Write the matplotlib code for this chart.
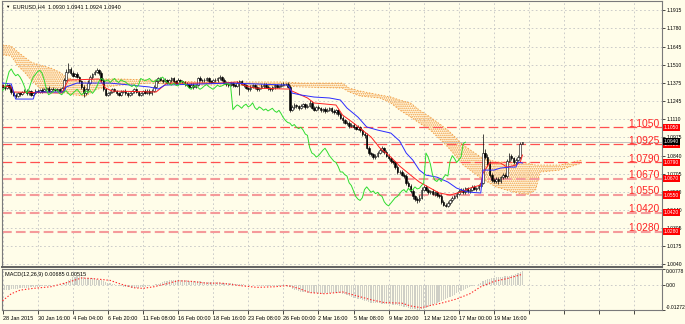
import matplotlib.pyplot as plt
from matplotlib.transforms import blended_transform_factory

plt.rcParams['font.family'] = ['Liberation Sans', 'DejaVu Sans']
plt.rcParams['lines.scale_dashes'] = False
plt.rcParams['hatch.linewidth'] = 0.8
plt.rcParams['hatch.color'] = '#f29a3c'

# EURUSD H4, prices in pips (1.1350 -> 11350)
first_open = 11360
closes = [
    11350, 11340, 11360, 11345, 11310, 11290, 11280, 11300, 11295, 11310,
    11320, 11300, 11315, 11290, 11305, 11320, 11310, 11325, 11315, 11330,
    11340, 11320, 11335, 11330, 11325, 11330, 11320, 11340, 11400, 11460,
    11480, 11450, 11430, 11440, 11420, 11390, 11350, 11300, 11330, 11380,
    11420, 11440, 11460, 11470, 11450, 11400, 11330, 11290, 11300, 11310,
    11330, 11320, 11300, 11290, 11310, 11320, 11300, 11285, 11300, 11315,
    11330, 11310, 11290, 11300, 11320, 11305, 11320, 11300, 11320, 11350,
    11390, 11410, 11400, 11390, 11400, 11380, 11395, 11410, 11390, 11380,
    11400, 11390, 11385, 11370, 11360, 11350, 11365, 11345, 11360, 11410,
    11400, 11395, 11400, 11410, 11390, 11385, 11400, 11395, 11410, 11420,
    11400, 11380, 11370, 11360, 11375, 11360, 11355, 11380, 11390, 11370,
    11360, 11340, 11330, 11350, 11360, 11345, 11330, 11340, 11355, 11365,
    11350, 11340, 11330, 11345, 11360, 11350, 11355, 11365, 11370, 11370,
    11350, 11180, 11200, 11215, 11205, 11190, 11210, 11220, 11200, 11210,
    11230, 11195, 11180, 11200, 11190, 11175, 11185, 11170, 11180, 11190,
    11170, 11160, 11175, 11150, 11120, 11100, 11085, 11080, 11060, 11070,
    11050, 11040, 11050, 11030, 11000, 10990, 10900, 10860, 10850, 10830,
    10840, 10860, 10880, 10895, 10870, 10840, 10820, 10800, 10790, 10760,
    10720, 10720, 10700, 10690, 10640, 10620, 10580, 10540, 10520, 10510,
    10530, 10590, 10610, 10590, 10570, 10580, 10560, 10570, 10550, 10540,
    10500, 10480, 10470, 10490, 10510, 10530, 10540, 10560, 10580, 10590,
    10570, 10600, 10580, 10590, 10610, 10595, 10600, 10620, 10640, 10860,
    10830, 10780, 10700, 10660, 10650, 10670, 10650, 10680, 10700, 10690,
    10800, 10840, 10820, 10790, 10810, 10830, 10930, 10940,
]
wick_up = [
    12, 8, 10, 6, 9, 7, 12, 10, 8, 11, 9, 14, 7, 10, 8, 12, 9, 6, 11, 8,
    10, 12, 7, 9, 11, 8, 10, 9, 15, 20, 44, 12, 18, 10, 14, 9, 12, 15, 8, 16,
    12, 10, 14, 17, 9, 15, 10, 12, 8, 11, 9, 13, 8, 10, 12, 7, 11, 9, 10, 8,
    12, 9, 10, 11, 8, 13, 9, 10, 12, 15, 18, 12, 10, 9, 14, 8, 11, 13, 9, 10,
    12, 8, 10, 9, 11, 7, 10, 12, 9, 14, 16, 9, 12, 10, 8, 11, 9, 13, 10, 12,
    9, 11, 8, 10, 12, 9, 10, 14, 12, 9, 10, 12, 8, 11, 9, 10, 13, 8, 11, 9,
    12, 10, 9, 11, 8, 12, 10, 9, 11, 10, 12, 10, 14, 12, 9, 11, 13, 10, 12, 15,
    18, 10, 12, 9, 11, 13, 10, 12, 9, 11, 10, 12, 9, 11, 14, 10, 12, 9, 13, 11,
    12, 10, 14, 11, 9, 15, 18, 12, 10, 13, 15, 12, 16, 20, 11, 12, 10, 14, 12, 11,
    13, 15, 12, 10, 14, 12, 11, 13, 10, 12, 18, 20, 15, 12, 14, 10, 13, 11, 12, 10,
    15, 12, 10, 14, 12, 11, 13, 15, 12, 10, 14, 12, 10, 13, 11, 12, 10, 14, 12, 140,
    30, 25, 18, 15, 12, 16, 14, 12, 15, 13, 16, 20, 15, 14, 12, 15, 11, 1,
]
wick_dn = [
    10, 12, 8, 11, 15, 10, 14, 9, 12, 8, 11, 9, 13, 10, 8, 12, 9, 11, 10, 7,
    12, 9, 10, 8, 11, 9, 12, 10, 8, 10, 12, 14, 10, 12, 9, 15, 18, 30, 12, 10,
    9, 11, 8, 10, 12, 14, 16, 12, 10, 9, 11, 8, 12, 10, 9, 11, 13, 10, 8, 12,
    9, 11, 10, 8, 12, 9, 11, 10, 9, 8, 10, 12, 9, 11, 8, 13, 9, 10, 12, 9,
    11, 10, 8, 12, 9, 14, 10, 11, 9, 8, 12, 10, 9, 11, 13, 8, 10, 9, 12, 10,
    11, 9, 12, 10, 8, 13, 10, 9, 90, 11, 12, 9, 10, 13, 8, 11, 12, 10, 9, 13,
    10, 12, 9, 11, 10, 8, 12, 10, 9, 11, 10, 15, 12, 14, 10, 12, 9, 11, 13, 10,
    12, 14, 11, 10, 13, 12, 10, 14, 11, 12, 13, 11, 10, 14, 12, 15, 11, 13, 12, 10,
    14, 12, 11, 15, 13, 16, 14, 18, 12, 15, 11, 13, 10, 12, 15, 11, 14, 12, 13, 16,
    12, 14, 11, 13, 15, 12, 14, 16, 13, 18, 12, 10, 14, 11, 13, 12, 10, 14, 12, 13,
    18, 14, 12, 10, 12, 11, 13, 10, 12, 11, 13, 10, 12, 14, 11, 10, 13, 12, 14, 10,
    15, 18, 20, 16, 14, 12, 15, 13, 11, 14, 12, 10, 14, 12, 11, 10, 12, 6,
]

# Ichimoku, bar index -> price in pips
tenkan_bar = [0, 4, 5, 27, 30, 44, 47, 50, 70, 75, 85, 100, 107, 111, 115, 129, 131, 132,
              139, 142, 152, 155, 160, 164, 168, 172, 177, 181, 186, 190, 195, 199, 204,
              209, 213, 218, 219, 222, 227, 230, 234, 236, 237]
tenkan_val = [11354, 11347, 11310, 11302, 11398, 11406, 11339, 11317, 11310, 11376, 11376,
              11376, 11384, 11354, 11339, 11332, 11332, 11317, 11266, 11229, 11214, 11140,
              11081, 11029, 10978, 10897, 10830, 10764, 10697, 10646, 10601, 10565, 10550,
              10572, 10601, 10624, 10712, 10786, 10786, 10756, 10771, 10793, 10845]
kijun_bar = [0, 4, 6, 14, 15, 28, 29, 34, 49, 67, 71, 74, 104, 130, 131, 132, 136, 142, 149,
             154, 157, 162, 166, 171, 177, 181, 184, 187, 190, 193, 198, 203, 207, 212, 218,
             219, 224, 227, 231, 234, 235, 237]
kijun_val = [11376, 11369, 11258, 11258, 11310, 11310, 11347, 11376, 11376, 11347, 11332,
             11361, 11376, 11361, 11339, 11302, 11288, 11273, 11266, 11251, 11192, 11125,
             11052, 11029, 11007, 10949, 10860, 10808, 10734, 10697, 10682, 10646, 10601,
             10572, 10565, 10734, 10734, 10749, 10756, 10756, 10793, 10786]
span_bar = [0, 4, 7, 10, 13, 17, 22, 26, 29, 33, 38, 42, 47, 54, 67, 76, 90, 104, 117, 129,
            136, 155, 158, 163, 172, 177, 181, 186, 190, 195, 203, 210, 218, 225, 233, 239,
            243, 245, 254, 264]
span_a = [11657, 11649, 11605, 11568, 11531, 11509, 11487, 11457, 11421, 11398, 11384, 11398,
          11406, 11406, 11398, 11391, 11384, 11384, 11384, 11384, 11376, 11376, 11339, 11317,
          11288, 11273, 11251, 11229, 11177, 11125, 11029, 10919, 10830, 10793, 10793, 10786,
          10771, 10771, 10771, 10808]
span_b = [11583, 11576, 11502, 11457, 11398, 11339, 11325, 11310, 11302, 11288, 11280, 11325,
          11347, 11361, 11376, 11369, 11361, 11361, 11354, 11354, 11347, 11339, 11310, 11280,
          11266, 11229, 11177, 11125, 11081, 11029, 10904, 10771, 10675, 10609, 10572, 10550,
          10587, 10719, 10734, 10786]
chikou_shift = 26

# MACD(12,26,9), units of 0.0001
macd_main = [
    -30, -28, -26, -25, -24, -22, -21, -20, -19, -18, -17, -16, -15, -14, -13, -12, -11, -10, -9, -8,
    -7, -6, -5, -4, -3, -2, -1, 0, 6, 14, 22, 30, 36, 40, 42, 42, 40, 36, 34, 33,
    32, 31, 29, 27, 25, 22, 18, 13, 9, 6, 3, 1, -2, -5, -8, -10, -12, -13, -14, -15,
    -15, -15, -15, -14, -12, -10, -8, -6, -4, -2, 1, 5, 10, 14, 17, 19, 21, 22, 23, 23,
    24, 24, 23, 22, 21, 20, 18, 17, 16, 16, 16, 15, 14, 14, 13, 13, 12, 12, 11, 11,
    10, 10, 9, 8, 7, 6, 5, 4, 3, 2, 1, 0, -1, -2, -3, -4, -4, -5, -5, -6,
    -6, -6, -7, -7, -8, -8, -8, -8, -8, -9, -10, -14, -20, -25, -29, -32, -35, -37, -38, -40,
    -41, -42, -43, -44, -45, -45, -45, -44, -43, -42, -41, -40, -40, -40, -42, -45, -49, -53, -57, -61,
    -65, -68, -71, -74, -77, -80, -84, -87, -90, -91, -92, -93, -94, -95, -96, -97, -98, -99, -100, -101,
    -103, -105, -108, -111, -114, -117, -120, -122, -124, -125, -125, -124, -121, -117, -112, -107, -102, -97, -92, -87,
    -82, -77, -72, -67, -62, -56, -50, -44, -38, -33, -28, -23, -18, -13, -8, -4, 0, 5, 10, 20,
    25, 28, 30, 32, 34, 36, 38, 39, 40, 41, 42, 43, 46, 50, 55, 60, 64, 68.5,
]
signal_bar = [0, 4, 8, 14, 22, 30, 36, 41, 49, 54, 60, 64, 69, 74, 80, 86, 93, 100, 108, 116,
              124, 130, 135, 140, 147, 155, 161, 168, 174, 182, 186, 191, 194, 200, 207, 213,
              218, 224, 230, 237]
signal_val = [-81, -46, -28, -19, -11, 12, 33, 30, 21, 2, -16, -19, -11, 2, 19, 16, 7, 7, -5,
              -14, -11, -5, -19, -40, -46, -37, -55, -76, -90, -93, -107, -116, -107, -93, -72,
              -46, -11, 16, 30, 51.5]

levels = [1.1050, 1.0925, 1.0790, 1.0670, 1.0550, 1.0420, 1.0280]
level_thick = [False, False, False, True, True, True, True]
bid = 1.0940
price_ticks = [1.1915, 1.1780, 1.1645, 1.1510, 1.1375, 1.1245, 1.1110, 1.0975, 1.0840,
               1.0705, 1.0570, 1.0440, 1.0305, 1.0175, 1.0040]
date_labels = ['28 Jan 2015', '30 Jan 16:00', '4 Feb 04:00', '6 Feb 20:00', '11 Feb 08:00',
               '16 Feb 00:00', '18 Feb 16:00', '23 Feb 08:00', '26 Feb 00:00', '2 Mar 16:00',
               '5 Mar 08:00', '9 Mar 20:00', '12 Mar 12:00', '17 Mar 00:00', '19 Mar 16:00']
bars_per_label = 16

assert len(closes) == len(wick_up) == len(wick_dn) == len(macd_main)

BG = '#fffde9'
GRID = '#c4c4c4'
n = len(closes)
bars = list(range(n))
c = [v / 1e4 for v in closes]
o = [first_open / 1e4] + c[:-1]
hi = [max(a, b) + u / 1e4 for a, b, u in zip(o, c, wick_up)]
lo = [min(a, b) - d / 1e4 for a, b, d in zip(o, c, wick_dn)]

W, H = 685, 324
fig = plt.figure(figsize=(W / 100, H / 100), dpi=100, facecolor=BG)
ax = fig.add_axes([2 / W, 1 - 267 / H, 660 / W, 266 / H], facecolor=BG)
ax2 = fig.add_axes([2 / W, 1 - 310 / H, 660 / W, 41 / H], facecolor=BG)

xlim = (-0.23, 300.6)
grid_x = list(range(0, 300, bars_per_label))
for a in (ax, ax2):
    a.set_xlim(*xlim)
    for s in a.spines.values():
        s.set_color('#7a7a7a')
        s.set_linewidth(0.8)
    a.set_xticks(grid_x)
    a.grid(True, color=GRID, linestyle=(0, (1.2, 1.8)), linewidth=0.6)
    a.set_axisbelow(True)
    a.yaxis.tick_right()
ax.spines['bottom'].set_linewidth(1.4)
ax.spines['bottom'].set_color('#606060')

# main price panel
ax.set_ylim(1.0019, 1.19814)
ax.set_yticks(price_ticks)
ax.set_yticklabels([f'{p:.4f}' for p in price_ticks])
ax.tick_params(axis='y', length=2, width=0.5, pad=1, labelsize=3.6, colors='black')
ax.tick_params(axis='x', length=0, labelbottom=False)

# cloud
sa = [v / 1e4 for v in span_a]
sb = [v / 1e4 for v in span_b]
ax.fill_between(span_bar, sa, sb, facecolor='none', edgecolor='#f29a3c', hatch='........',
                linewidth=0, zorder=1)
ax.plot(span_bar, sa, color='#f29a3c', lw=0.6, linestyle=(0, (1, 1.2)), zorder=1)
ax.plot(span_bar, sb, color='#f29a3c', lw=0.6, linestyle=(0, (1, 1.2)), zorder=1)

# levels
trans = blended_transform_factory(ax.transAxes, ax.transData)
ax.axhline(bid, color='#b8b8b8', lw=0.6, zorder=2)
for lv, thick in zip(levels, level_thick):
    if thick:
        ax.axhline(lv, color='#f59a9a', lw=1.5, dashes=(7, 3), zorder=2)
    else:
        ax.axhline(lv, color='#ff5050', lw=0.9, dashes=(7, 3), zorder=2)
    ax.text(0.9965, lv + 0.0004, f'{lv:.4f}', transform=trans, ha='right', va='baseline',
            color='#ff2626', fontsize=7.4, zorder=6)
    ax.text(1.003, lv, f'{lv:.4f}', transform=trans, ha='left', va='center', color='white',
            fontsize=3.5, zorder=7, clip_on=False,
            bbox=dict(boxstyle='square,pad=0.25', fc='#ff0000', ec='none'))
ax.text(1.003, bid + 0.0003, f'{bid:.4f}', transform=trans, ha='left', va='center', color='white',
        fontsize=3.5, zorder=7, clip_on=False,
        bbox=dict(boxstyle='square,pad=0.25', fc='black', ec='none'))

# candles
ax.vlines(bars, lo, hi, color='black', lw=0.5, zorder=4)
bull = [i for i in bars if c[i] >= o[i]]
bear = [i for i in bars if c[i] < o[i]]
ax.bar(bull, [c[i] - o[i] for i in bull], bottom=[o[i] for i in bull], width=0.72,
       color='white', edgecolor='black', linewidth=0.4, zorder=4)
ax.bar(bear, [o[i] - c[i] for i in bear], bottom=[c[i] for i in bear], width=0.72,
       color='black', edgecolor='black', linewidth=0.4, zorder=4)

# ichimoku lines
ax.plot(tenkan_bar, [v / 1e4 for v in tenkan_val], color='#ff2020', lw=0.7, zorder=5)
ax.plot(kijun_bar, [v / 1e4 for v in kijun_val], color='#2a2aff', lw=0.7, zorder=5)
ax.plot(bars[:n - chikou_shift], c[chikou_shift:], color='#2fdc2f', lw=0.7, zorder=5)

ax.text(0.004, 0.986, '\u25bc', transform=ax.transAxes, fontsize=3.2, va='top', ha='left')
ax.text(0.016, 0.988, 'EURUSD,H4  1.0930 1.0941 1.0924 1.0940', transform=ax.transAxes,
        fontsize=4, va='top', ha='left')

# MACD panel
ax2.set_ylim(-0.01272, 0.00778)
ax2.bar(bars, [m * 1e-4 for m in macd_main], width=0.55, color='#cfcfc6', zorder=2)
ax2.plot(signal_bar, [s * 1e-4 for s in signal_val], color='#ff2a2a', lw=0.8,
         linestyle=(0, (1, 1.3)), zorder=3)
ax2.set_yticks([-0.01272, 0.0, 0.00778])
ax2.set_yticklabels(['-0.01272', '0.00', '0.00778'])
ax2.tick_params(axis='y', length=2, width=0.5, pad=1, labelsize=3.6)
yl = ax2.get_yticklabels()
yl[0].set_va('bottom')
yl[2].set_va('top')
ax2.set_xticklabels(date_labels + [''] * (len(grid_x) - len(date_labels)))
for lab in ax2.get_xticklabels():
    lab.set_ha('left')
ax2.tick_params(axis='x', length=3, width=0.5, pad=1, labelsize=4)
ax2.text(0.004, 0.93, 'MACD(12,26,9) 0.00685 0.00515', transform=ax2.transAxes,
         fontsize=4, va='top', ha='left')

fig.savefig('out.png', dpi=100, facecolor=BG)
